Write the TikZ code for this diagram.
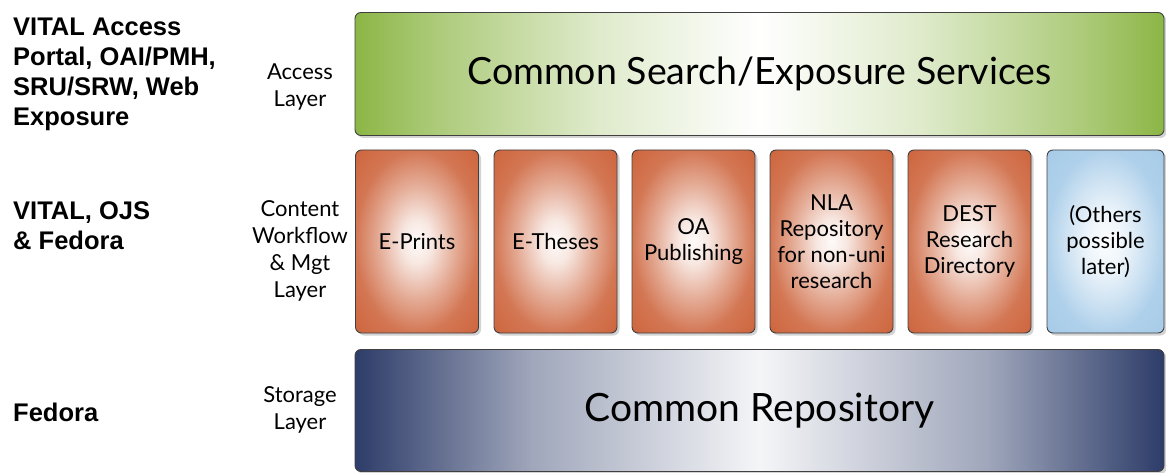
\documentclass[tikz,border=0pt]{standalone}
\usepackage{fontspec}
\setmainfont{Lato}
\newfontfamily\leftfont{Liberation Sans}
\usetikzlibrary{shadows}
\definecolor{grnE}{HTML}{8CB646}
\definecolor{orE}{HTML}{CD643C}
\definecolor{navE}{HTML}{2D3C69}
\definecolor{ltbE}{HTML}{A6CBE8}
\pgfdeclarehorizontalshading{greenh}{100bp}{color(0bp)=(grnE); color(25bp)=(grnE); color(30bp)=(grnE!72!white); color(40bp)=(grnE!28!white); color(50bp)=(white); color(60bp)=(grnE!28!white); color(70bp)=(grnE!72!white); color(75bp)=(grnE); color(100bp)=(grnE)}
\pgfdeclarehorizontalshading{navh}{100bp}{color(0bp)=(navE); color(25bp)=(navE); color(29bp)=(navE!80!white); color(36bp)=(navE!45!white); color(50bp)=(white!95!navE); color(64bp)=(navE!45!white); color(71bp)=(navE!80!white); color(75bp)=(navE); color(100bp)=(navE)}
\pgfdeclareradialshading{orrad}{\pgfpoint{0bp}{0bp}}{color(0bp)=(white!97!orE); color(6bp)=(white!85!orE); color(16bp)=(orE!55!white); color(25bp)=(orE!88!white); color(36bp)=(orE); color(50bp)=(orE)}
\pgfdeclareradialshading{ltbrad}{\pgfpoint{0bp}{0bp}}{color(0bp)=(white!97!ltbE); color(8bp)=(white!80!ltbE); color(18bp)=(ltbE!60!white); color(25bp)=(ltbE!90!white); color(36bp)=(ltbE); color(50bp)=(ltbE)}
\tikzset{
  layer/.style={rectangle, rounded corners=6pt, draw=black!75, line width=0.9pt,
    drop shadow={shadow xshift=2.5pt, shadow yshift=-2.5pt, opacity=0.35},
    inner sep=0pt},
  card/.style={rectangle, rounded corners=6pt, draw=black!75, line width=0.9pt,
    drop shadow={shadow xshift=2.5pt, shadow yshift=-2.5pt, opacity=0.35},
    minimum width=123pt, minimum height=183pt, align=center, inner sep=2pt,
    font=\fontsize{22}{26}\selectfont, shade, shading=orrad},
  midlabel/.style={align=center, font=\fontsize{22}{27}\selectfont, inner sep=0pt},
  sidelabel/.style={align=left, anchor=west, inner sep=0pt,
    font=\leftfont\bfseries\fontsize{25.5}{30}\selectfont}
}
\begin{document}
\begin{tikzpicture}[x=1pt,y=-1pt]
\useasboundingbox (0,0) rectangle (1166,473);
% top layer
\node[layer, minimum width=809pt, minimum height=123pt, shade, shading=greenh, font=\fontsize{37.5}{40}\selectfont] (access) at (759.5,74) {Common Search/Exposure Services};
% cards
\node[card] (eprints) at (417,241.5) {E-Prints};
\node[card] (etheses) at (555.5,241.5) {E-Theses};
\node[card] (oapub) at (693.5,241.5) {OA\\Publishing};
\node[card] (nla) at (831.5,241.5) {NLA\\Repository\\for non-uni\\research};
\node[card] (dest) at (969.5,241.5) {DEST\\Research\\Directory};
\node[card, shading=ltbrad, minimum width=117pt] (others) at (1105.5,241.5) {(Others\\possible\\later)};
% bottom layer
\node[layer, minimum width=809pt, minimum height=122pt, shade, shading=navh, font=\fontsize{39}{42}\selectfont] (store) at (759.5,410.5) {Common Repository};
% middle labels
\node[midlabel] (accl) at (300,87) {Access\\Layer};
\node[midlabel] (cwl) at (300,251) {Content\\Workflow\\\& Mgt\\Layer};
\node[midlabel] (stl) at (300,410) {Storage\\Layer};
% side labels
\node[sidelabel] (vital) at (13,74) {VITAL Access\\Portal, OAI/PMH,\\SRU/SRW, Web\\Exposure};
\node[sidelabel] (ojs) at (13,226) {VITAL, OJS\\\& Fedora};
\node[sidelabel] (fed) at (13,412) {Fedora};
\end{tikzpicture}
\end{document}
